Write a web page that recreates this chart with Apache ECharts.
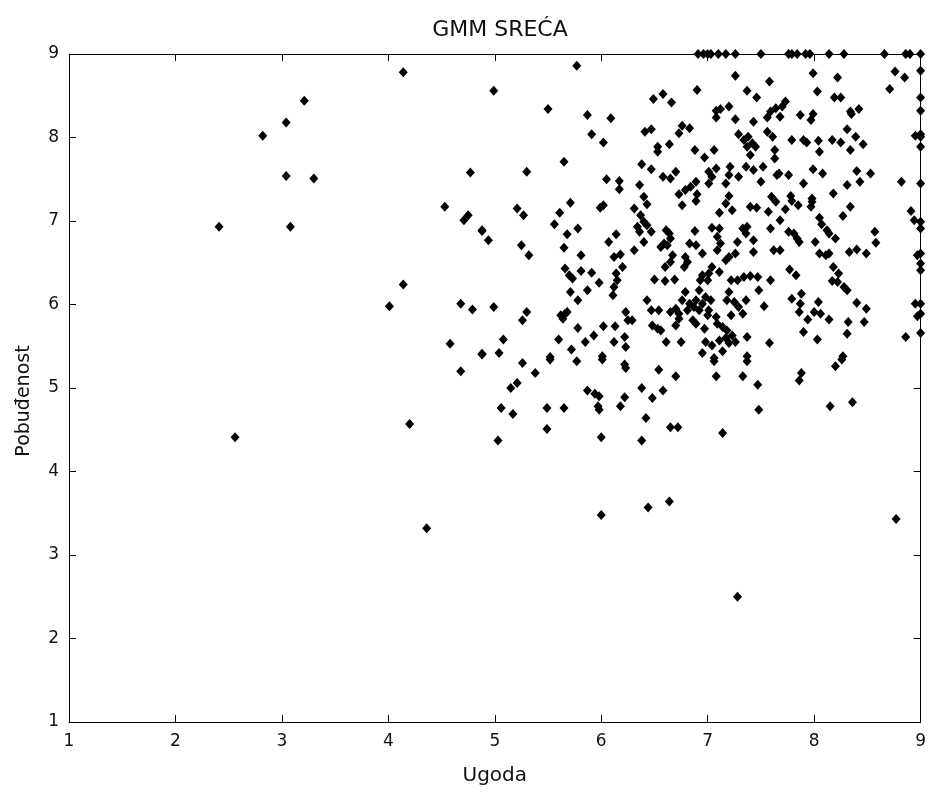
<!DOCTYPE html>
<html><head><meta charset="utf-8">
<script src="https://cdn.jsdelivr.net/npm/echarts@6/dist/echarts.min.js"></script>
<style>html,body{margin:0;padding:0;background:#fff}#c{width:929px;height:796px}</style>
</head><body><div id="c"></div>
<script>
const titleText = "GMM SREĆA";
const xName = "Ugoda";
const yName = "Pobuđenost";
const xTicks = [1,2,3,4,5,6,7,8,9];
const yTicks = [1,2,3,4,5,6,7,8,9];

// [Ugoda, Pobuđenost] pairs, grouped by region of the plot
const sparseLeft = [[2.41,6.93],[2.56,4.41],[2.82,8.02],[3.04,8.18],[3.21,8.44],[3.04,7.54],[3.30,7.51],[3.08,6.93],
 [4.14,8.78],[4.01,5.98],[4.14,6.24],[4.20,4.57],[4.36,3.32],[4.53,7.17],[4.77,7.58],[4.71,7.01],[4.75,7.07],
 [4.88,6.88],[4.68,6.01],[4.79,5.94],[4.58,5.53],[4.68,5.20],[4.88,5.41]];
const topLeft = [[5.77,8.86],[4.99,8.56],[5.50,8.34],[5.87,8.27],[6.09,8.23],[5.91,8.04],[6.02,7.94],[5.65,7.71],
 [5.30,7.59],[6.05,7.50],[6.17,7.48],[6.17,7.38]];
const topMiddle = [[6.91,9],[6.96,9],[7.00,9],[7.03,9],[7.10,9],[7.17,9],[7.26,9],[7.50,9],
 [7.26,8.74],[7.58,8.67],[6.90,8.57],[7.37,8.56],[7.46,8.48],[6.49,8.46],[6.58,8.52],[6.66,8.42],
 [7.08,8.32],[7.12,8.34],[7.20,8.37],[7.08,8.24],[7.26,8.22],[7.43,8.19],[7.59,8.31],[7.64,8.35],[7.56,8.24],
 [6.41,8.07],[6.47,8.10],[6.76,8.14],[6.83,8.11],[6.73,8.05],
 [7.29,8.04],[7.34,7.97],[7.38,8.01],[7.42,7.93],[7.37,7.89],[7.45,7.89],[7.40,7.79],[7.56,8.07],[7.61,8.01],
 [6.53,7.89],[6.53,7.83],[6.64,7.92],[6.88,7.85],[7.06,7.85],[6.97,7.76],[7.63,7.85],[7.63,7.75],
 [6.38,7.68],[6.47,7.62],[6.58,7.53],[6.65,7.51],[6.70,7.59],[7.01,7.59],[7.08,7.63],[7.04,7.53],[7.01,7.45],
 [7.21,7.65],[7.20,7.55],[7.17,7.45],[7.29,7.53],[7.36,7.65],[7.43,7.61],[7.52,7.65],[7.50,7.47],[7.65,7.55],
 [6.36,7.43],[6.40,7.29],[6.73,7.32],[6.79,7.37],[6.84,7.41],[6.89,7.47],[6.90,7.32],[7.20,7.30],[7.60,7.29]];
const topRight = [[7.76,9],[7.79,9],[7.84,9],[7.92,9],[7.96,9],[8.14,9],[8.28,9],[8.66,9],[8.86,9],[8.90,9],[9,9],
 [9,8.80],[9,8.48],[9,8.32],[9,8.04],[9,8.01],[9,7.89],[9,7.45],[8.95,8.02],
 [7.99,8.77],[8.22,8.72],[8.76,8.79],[8.85,8.72],[8.71,8.58],[8.03,8.55],[8.19,8.48],[8.25,8.48],
 [7.73,8.43],[7.70,8.37],[7.68,8.25],[7.87,8.27],[7.99,8.28],[7.97,8.21],[8.34,8.31],[8.42,8.34],[8.35,8.28],
 [8.31,8.10],[8.39,8.01],[8.46,7.92],[8.34,7.85],[7.79,7.97],[7.90,7.97],[7.93,7.94],[8.04,7.96],[8.05,7.83],
 [8.17,7.97],[8.25,7.94],[7.67,7.57],[7.76,7.55],[7.99,7.62],[8.08,7.57],[8.40,7.60],[8.53,7.57],[8.43,7.47],
 [8.31,7.43],[8.82,7.47],[7.90,7.45],[7.78,7.30],[7.98,7.27],[8.18,7.33]];
const middleLeft = [[5.21,7.15],[5.27,7.07],[5.71,7.22],[5.61,7.10],[6.02,7.19],[5.99,7.16],[5.56,6.96],
 [5.68,6.84],[5.78,6.91],[4.88,6.89],[4.94,6.77],[5.25,6.71],[5.32,6.59],[5.65,6.68],[6.07,6.75],[6.14,6.84],
 [5.81,6.59],[5.66,6.43],[5.70,6.35],[5.73,6.31],[5.81,6.40],[5.91,6.38],[5.98,6.26],
 [6.12,6.57],[6.18,6.60],[6.20,6.45],[6.14,6.37],[6.15,6.29],[6.12,6.21],[6.11,6.11],
 [5.71,6.15],[5.78,6.05],[5.87,6.17],[4.99,5.97],[5.30,5.91],[5.26,5.81],[5.62,5.87],[5.66,5.89],[5.64,5.83],
 [5.68,5.91],[6.23,5.91],[6.25,5.81],[5.78,5.72],[6.02,5.74],[6.13,5.74],[5.08,5.58],[5.60,5.58],[5.85,5.55],
 [5.93,5.63],[5.72,5.46],[6.12,5.55],[6.22,5.61],[6.23,5.49],[4.88,5.40],[5.04,5.42],[5.52,5.37],[6.01,5.38]];
const middleCenter = [[6.43,7.20],[6.31,7.15],[6.37,7.07],[6.40,6.99],[6.34,6.93],[6.43,6.95],[6.36,6.87],[6.47,6.87],
 [6.76,7.19],[6.89,7.24],[7.17,7.21],[7.23,7.13],[7.40,7.17],[7.46,7.16],[7.11,7.10],[7.57,7.11],[7.64,7.23],
 [6.88,6.88],[6.40,6.75],[6.31,6.65],[6.61,6.89],[6.64,6.85],[6.65,6.79],[6.59,6.73],[6.62,6.71],[6.56,6.69],
 [6.83,6.73],[6.89,6.71],[6.95,6.61],[7.04,6.92],[7.11,6.91],[7.09,6.81],[7.12,6.73],[7.09,6.65],
 [7.33,6.91],[7.37,6.93],[7.36,6.85],[7.28,6.75],[7.43,6.77],[7.43,6.63],[7.59,6.91],[7.62,6.65],
 [6.67,6.59],[6.65,6.51],[6.79,6.57],[6.81,6.51],[6.78,6.45],[6.60,6.45],[7.17,6.53],[7.26,6.61],[7.20,6.57],
 [6.95,6.35],[7.01,6.37],[7.04,6.45],[7.11,6.39],[6.93,6.29],[7.00,6.29],[6.50,6.30],[6.60,6.28],[6.69,6.30],
 [7.22,6.29],[7.28,6.29],[7.34,6.33],[7.40,6.34],[7.47,6.33],[7.59,6.29],[7.48,6.17],
 [6.79,6.15],[6.92,6.17],[6.98,6.09],[7.03,6.05],[6.76,6.05],[6.83,6.01],[6.89,6.05],[6.95,6.01],[6.87,5.97],
 [6.81,5.93],[6.92,5.93],[6.73,5.89],[6.70,5.95],[6.43,6.05],[6.47,5.93],[6.54,5.93],[6.65,5.91],[6.73,5.83],
 [7.20,6.15],[7.18,6.05],[7.25,6.03],[7.36,6.05],[7.01,5.93],[7.00,5.87],[6.89,5.77],[6.86,5.81],
 [7.29,5.97],[7.33,5.89],[7.22,5.87],[7.53,5.98],[6.29,5.81],[6.48,5.75],[6.53,5.71],[6.56,5.69],[6.70,5.75],
 [7.08,5.85],[7.09,5.77],[7.14,5.73],[7.18,5.69],[6.97,5.71],[6.61,5.55],[6.75,5.55],
 [6.98,5.55],[7.04,5.51],[7.11,5.57],[7.17,5.60],[7.20,5.54],[7.26,5.55],[7.23,5.63],[7.37,5.61],[7.58,5.54],
 [6.95,5.42],[7.14,5.44],[7.06,5.36],[7.37,5.38]];
const middleRight = [[7.85,7.19],[7.73,7.14],[7.97,7.17],[7.98,7.23],[7.79,7.24],[8.34,7.17],[8.27,7.06],[7.68,7.01],
 [8.05,7.04],[8.07,6.96],[8.12,6.89],[8.14,6.85],[8.20,6.79],[7.76,6.87],[7.81,6.85],[7.84,6.79],[7.86,6.75],
 [8.01,6.75],[8.57,6.87],[8.58,6.74],[8.91,7.12],[8.94,7.01],[9,6.99],[9,6.91],[7.68,6.65],
 [8.05,6.61],[8.11,6.59],[8.14,6.61],[8.33,6.63],[8.40,6.66],[8.49,6.61],[8.97,6.59],[9,6.61],[9,6.49],[9,6.41],
 [7.77,6.42],[7.83,6.35],[8.18,6.45],[8.23,6.37],[8.17,6.28],[8.22,6.27],[8.28,6.21],[8.31,6.17],
 [7.79,6.07],[7.88,6.13],[7.87,6.01],[7.86,5.91],[7.94,5.82],[8.00,5.91],[8.04,6.03],[8.06,5.89],[8.14,5.82],
 [8.40,6.02],[8.49,5.95],[8.32,5.79],[8.47,5.79],[8.95,6.01],[9,6.01],[8.97,5.86],[9,5.89],
 [7.90,5.67],[8.03,5.58],[8.31,5.65],[8.86,5.61],[9,5.66],[8.27,5.38]];
const lowerPart = [[5.26,5.30],[5.52,5.34],[5.77,5.32],[6.01,5.34],[6.22,5.28],[6.23,5.24],[5.38,5.18],
 [5.21,5.06],[5.15,5.00],[5.87,4.97],[5.94,4.93],[5.98,4.90],[6.22,4.89],[6.18,4.78],[5.97,4.78],[5.98,4.74],
 [5.06,4.76],[5.17,4.69],[5.49,4.76],[5.65,4.76],[5.49,4.51],[5.03,4.37],[6.00,4.41],[6.00,3.48],
 [7.06,5.32],[7.37,5.32],[6.54,5.22],[6.70,5.14],[7.08,5.14],[7.33,5.14],[7.47,5.04],[6.38,5.00],[6.48,4.88],
 [6.58,4.97],[7.48,4.74],[6.42,4.64],[6.65,4.53],[6.72,4.53],[7.14,4.46],[6.38,4.37],[6.64,3.64],[6.44,3.57],
 [8.26,5.34],[8.20,5.26],[7.88,5.18],[7.86,5.09],[8.15,4.78],[8.36,4.83],[8.77,3.43],[7.28,2.50]];

const allPoints = [].concat(sparseLeft, topLeft, topMiddle, topRight, middleLeft, middleCenter, middleRight, lowerPart);

const chart = echarts.init(document.getElementById('c'));
const font = "'DejaVu Sans', Arial, sans-serif";
const grid = {left:69, right:7, top:54, bottom:74};
const axisCommon = {
  min:1, max:9, interval:1,
  axisLine:{show:true, onZero:false, lineStyle:{color:'#000', width:1}},
  axisTick:{show:true, inside:true, length:7, lineStyle:{color:'#000'}},
  splitLine:{show:false}
};
chart.setOption({
  backgroundColor:'#fff',
  animation:false,
  title:{text:titleText, left:495, textAlign:'center', top:14,
    textStyle:{fontFamily:font, fontSize:22, fontWeight:'normal', color:'#111'}},
  grid:grid,
  xAxis:[
    Object.assign({type:'value', position:'bottom', name:xName, nameLocation:'middle', nameGap:44,
      nameTextStyle:{fontFamily:font, fontSize:20, color:'#111'},
      axisLabel:{fontFamily:font, fontSize:17, color:'#111', margin:11}}, axisCommon),
    Object.assign({type:'value', position:'top', axisLabel:{show:false}}, axisCommon)
  ],
  yAxis:[
    Object.assign({type:'value', position:'left', name:yName, nameLocation:'middle', nameGap:35,
      nameTextStyle:{fontFamily:font, fontSize:19, color:'#111', padding:[0,0,0,-26]},
      axisLabel:{fontFamily:font, fontSize:17, color:'#111', margin:10}}, axisCommon),
    Object.assign({type:'value', position:'right', axisLabel:{show:false}}, axisCommon)
  ],
  series:[{
    type:'scatter', xAxisIndex:0, yAxisIndex:0,
    data: allPoints,
    symbol:'diamond', symbolSize:[9,10], clip:false,
    itemStyle:{color:'#000', opacity:1}
  }]
});
</script></body></html>
